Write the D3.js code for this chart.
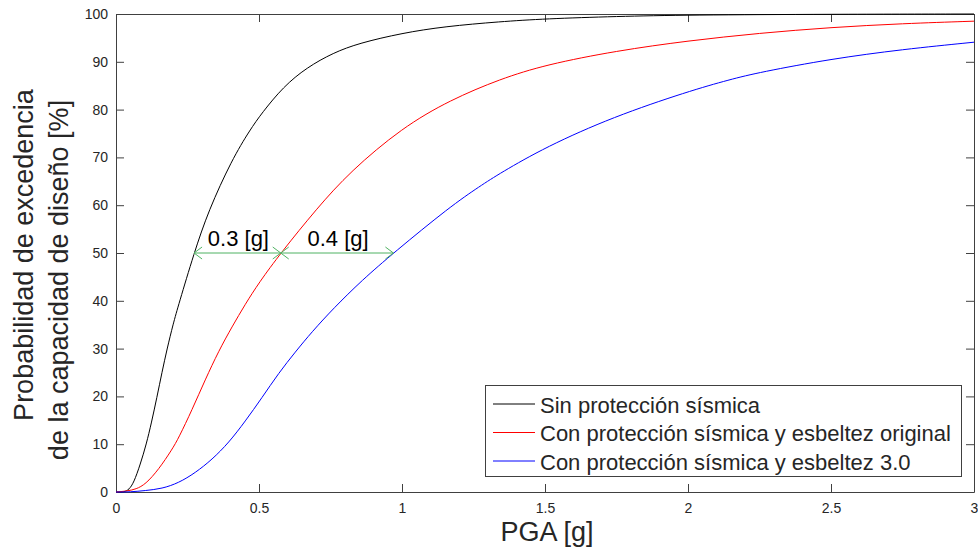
<!DOCTYPE html>
<html>
<head>
<meta charset="utf-8">
<script src="https://cdn.jsdelivr.net/npm/d3@7"></script>
<style>
  html, body { margin: 0; padding: 0; background: #fff; }
  svg { display: block; font-family: "Liberation Sans", Arial, sans-serif; }
</style>
</head>
<body>
<svg id="chart" width="978" height="552"></svg>
<script>
// ---------- data ----------
const seriesNames = [
  "Sin protección sísmica",
  "Con protección sísmica y esbeltez original",
  "Con protección sísmica y esbeltez 3.0"
];
const seriesColors = ["#000000", "#ff0000", "#0000ff"];

const pgaSin = [0, 0.03, 0.045, 0.062, 0.085, 0.106, 0.124, 0.143, 0.161, 0.178, 0.2, 0.219, 0.273, 0.323, 0.405, 0.469, 0.509, 0.585, 0.667, 0.76, 0.85, 1.0, 1.15, 1.343, 1.5, 1.75, 2.0, 2.5, 3.0];
const probSin = [0, 0, 0.5, 1.9, 5.8, 10, 14.5, 19.8, 25.1, 29.8, 35.2, 39.2, 50, 58.8, 69.5, 75.8, 79.2, 84.8, 88.8, 91.9, 93.9, 96.0, 97.4, 98.4, 99.0, 99.5, 99.8, 99.95, 100];

const pgaOrig = [0, 0.04, 0.07, 0.103, 0.149, 0.196, 0.219, 0.266, 0.312, 0.359, 0.406, 0.452, 0.5, 0.576, 0.702, 0.818, 1.0, 1.168, 1.343, 1.503, 1.75, 2.0, 2.25, 2.5, 2.75, 3.0];
const probOrig = [0, 0.2, 0.6, 1.6, 4.7, 8.9, 11.3, 17.2, 23.5, 29.5, 34.6, 39.3, 43.8, 50, 59.3, 67.0, 76.2, 82.0, 86.4, 89.4, 92.3, 94.4, 96.0, 97.2, 98.0, 98.5];

const pga30 = [0, 0.05, 0.103, 0.161, 0.219, 0.277, 0.336, 0.394, 0.452, 0.51, 0.569, 0.627, 0.685, 0.76, 0.86, 0.97, 1.168, 1.273, 1.343, 1.503, 1.739, 2.0, 2.147, 2.25, 2.5, 2.75, 3.0];
const prob30 = [0, 0, 0.3, 0.7, 1.9, 4.0, 6.8, 10.3, 14.8, 19.7, 24.9, 29.3, 33.5, 38.4, 44.3, 50, 59.7, 64.0, 66.7, 72.2, 78.5, 83.8, 86.3, 87.8, 90.6, 92.6, 94.1];

const xTicks = [0, 0.5, 1, 1.5, 2, 2.5, 3];
const xTickLabels = ["0", "0.5", "1", "1.5", "2", "2.5", "3"];
const yTicks = [0, 10, 20, 30, 40, 50, 60, 70, 80, 90, 100];
const yTickLabels = ["0", "10", "20", "30", "40", "50", "60", "70", "80", "90", "100"];

// annotations: double arrows at the 50% level
const arrowLevel = 50;
const arrowFrom = [0.273, 0.576];
const arrowTo = [0.576, 0.970];
const arrowLabels = ["0.3 [g]", "0.4 [g]"];

const xLabel = "PGA [g]";
const yLabelLines = ["Probabilidad de excedencia", "de la capacidad de diseño [%]"];

// ---------- layout ----------
const svg = d3.select("#chart");
const L = 116, R = 974, T = 14, B = 492;
const x = d3.scaleLinear().domain([0, 3]).range([L, R]);
const y = d3.scaleLinear().domain([0, 100]).range([B, T]);
const axisColor = "#404040";
const tickTextColor = "#262626";

svg.append("rect").attr("x", L).attr("y", T).attr("width", R - L).attr("height", B - T).attr("fill", "#fff");

const fmtX = (d) => xTickLabels[xTicks.indexOf(d)];
const fmtY = (d) => yTickLabels[yTicks.indexOf(d)];

const gx = svg.append("g").attr("transform", `translate(0,${B})`)
  .call(d3.axisBottom(x).tickValues(xTicks).tickFormat(fmtX).tickSizeInner(-8).tickSizeOuter(0).tickPadding(11));
const gxt = svg.append("g").attr("transform", `translate(0,${T})`)
  .call(d3.axisTop(x).tickValues(xTicks).tickFormat("").tickSizeInner(-8).tickSizeOuter(0));
const gy = svg.append("g").attr("transform", `translate(${L},0)`)
  .call(d3.axisLeft(y).tickValues(yTicks).tickFormat(fmtY).tickSizeInner(-8).tickSizeOuter(0).tickPadding(8));
const gyr = svg.append("g").attr("transform", `translate(${R},0)`)
  .call(d3.axisRight(y).tickValues(yTicks).tickFormat("").tickSizeInner(-8).tickSizeOuter(0));

[gx, gxt, gy, gyr].forEach(g => {
  g.select(".domain").attr("stroke", axisColor).attr("stroke-width", 1);
  g.selectAll(".tick line").attr("stroke", axisColor).attr("stroke-width", 1);
  g.selectAll(".tick text").attr("fill", tickTextColor).attr("font-size", 14)
    .attr("font-family", '"Liberation Sans", Arial, sans-serif');
});

// curves
const series = [
  { name: seriesNames[0], color: seriesColors[0], xs: pgaSin, ys: probSin },
  { name: seriesNames[1], color: seriesColors[1], xs: pgaOrig, ys: probOrig },
  { name: seriesNames[2], color: seriesColors[2], xs: pga30, ys: prob30 }
];
const line = d3.line().x(d => x(d[0])).y(d => y(d[1])).curve(d3.curveBasis);
svg.append("g").selectAll("path").data(series).join("path")
  .attr("fill", "none")
  .attr("stroke", d => d.color)
  .attr("stroke-width", 1)
  .attr("d", d => line(d.xs.map((v, i) => [v, d.ys[i]])));

// double arrows
const green = "#4fb262";
const ag = svg.append("g");
arrowFrom.forEach((a, i) => {
  const x1 = x(a), x2 = x(arrowTo[i]), yy = y(arrowLevel);
  ag.append("line").attr("x1", x1).attr("x2", x2).attr("y1", yy).attr("y2", yy)
    .attr("stroke", green).attr("stroke-width", 1);
  const hl = 8, hw = 6;
  ag.append("path").attr("fill", "none").attr("stroke", green).attr("stroke-width", 1)
    .attr("d", `M${x1 + hl},${yy - hw}L${x1},${yy}L${x1 + hl},${yy + hw}`);
  ag.append("path").attr("fill", "none").attr("stroke", green).attr("stroke-width", 1)
    .attr("d", `M${x2 - hl},${yy - hw}L${x2},${yy}L${x2 - hl},${yy + hw}`);
  ag.append("text").attr("x", (x1 + x2) / 2 + 1).attr("y", yy - 7)
    .attr("text-anchor", "middle").attr("font-size", 22).attr("fill", "#000")
    .text(arrowLabels[i]);
});

// axis labels
svg.append("text").attr("x", (L + R) / 2 + 2).attr("y", 541)
  .attr("text-anchor", "middle").attr("font-size", 27).attr("fill", tickTextColor)
  .text(xLabel);
svg.append("text").attr("transform", "translate(33,255) rotate(-90)")
  .attr("text-anchor", "middle").attr("font-size", 27).attr("fill", tickTextColor)
  .text(yLabelLines[0]);
svg.append("text").attr("transform", "translate(68,280) rotate(-90)")
  .attr("text-anchor", "middle").attr("font-size", 27).attr("fill", tickTextColor)
  .text(yLabelLines[1]);

// legend
const lg = svg.append("g");
lg.append("rect").attr("x", 485.5).attr("y", 385.5).attr("width", 476).attr("height", 91)
  .attr("fill", "#fff").attr("stroke", axisColor).attr("stroke-width", 1);
const rowY = [404, 432.5, 461];
series.forEach((s, i) => {
  lg.append("line").attr("x1", 493).attr("x2", 535).attr("y1", rowY[i]).attr("y2", rowY[i])
    .attr("stroke", s.color).attr("stroke-width", 1);
  lg.append("text").attr("x", 540).attr("y", rowY[i] + 8.5)
    .attr("font-size", 22).attr("fill", tickTextColor).text(s.name);
});
</script>
</body>
</html>
